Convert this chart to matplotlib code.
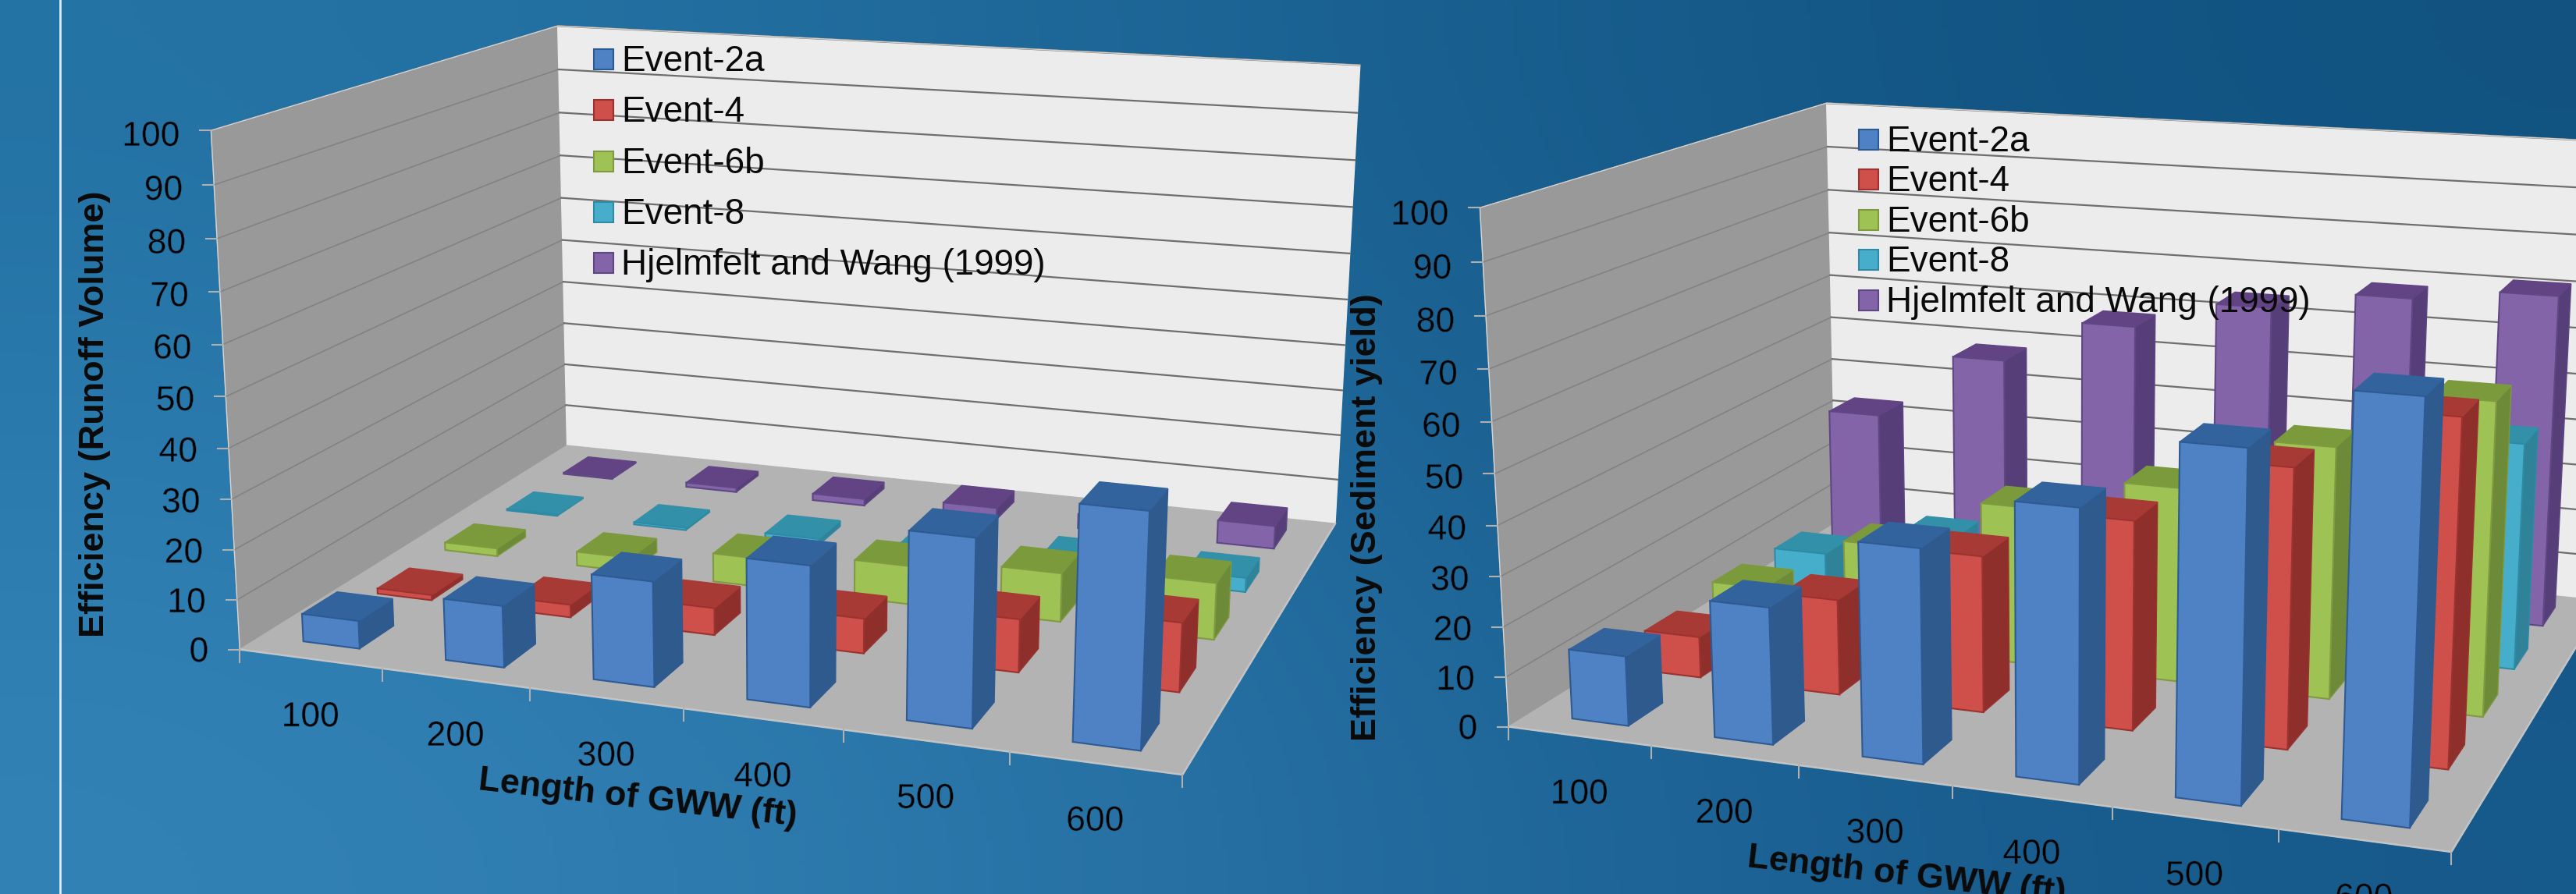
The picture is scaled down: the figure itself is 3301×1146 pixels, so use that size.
import numpy as np
import matplotlib
matplotlib.use('Agg')
import matplotlib.pyplot as plt
import matplotlib.patheffects as pe
from matplotlib.colors import to_rgb

W, H = 3301, 1146

lengths = [100, 200, 300, 400, 500, 600]
event_names = ['Event-2a', 'Event-4', 'Event-6b', 'Event-8', 'Hjelmfelt and Wang (1999)']
ticks_z = list(range(0, 101, 10))

# runoff volume efficiency, front series first
runoff_2a = [5.6, 12.2, 20.5, 27, 35.5, 43.6]
runoff_4 = [1.1, 2.6, 5.5, 7, 10.5, 13.5]
runoff_6b = [1.7, 3, 6, 8, 10, 11.5]
runoff_8 = [0.3, 0.5, 1.3, 2.5, 3, 3]
runoff_hw = [0.3, 1, 1.5, 2.6, 3.2, 5]

# sediment yield efficiency
sediment_2a = [14, 27, 41.5, 52, 65.5, 77]
sediment_4 = [8.5, 19.5, 31.5, 41.5, 54.5, 66.5]
sediment_6b = [10, 22, 33, 40, 51, 62.5]
sediment_8 = [9, 15.6, 20, 30, 38, 47]
sediment_hw = [33.2, 48.2, 58, 64.3, 68.4, 71]

# front, side, top colours for each series
face_colors = [
    ['#4f82c4', '#2f5a8e', '#33639c'],
    ['#cf4f4a', '#8e2f2c', '#a83a36'],
    ['#9fc254', '#6d8a38', '#7a9a3c'],
    ['#46aecb', '#2f8298', '#3290a8'],
    ['#8364a8', '#563f78', '#624485'],
]
edge_colors = ['#2d5a92', '#9a3330', '#7f9a40', '#2f8ba5', '#5f4784']

# anchor points of the chart box: (category, series, value) -> pixel
box_world = np.array([
    [0, 0, 0], [6, 0, 0], [0, 5, 0], [6, 5, 0],
    [0, 0, 100], [0, 5, 100], [6, 5, 100],
], dtype=float)
box_pixels = np.array([
    [307, 832], [1515, 994], [727, 572], [1711, 670],
    [271, 167], [714, 33], [1743, 84],
], dtype=float)


def fit_projection(world, pixels):
    rows = []
    for (x, y, z), (u, v) in zip(world, pixels):
        rows.append([x, y, z, 1, 0, 0, 0, 0, -u * x, -u * y, -u * z, -u])
        rows.append([0, 0, 0, 0, x, y, z, 1, -v * x, -v * y, -v * z, -v])
    _, _, vt = np.linalg.svd(np.array(rows))
    return vt[-1].reshape(3, 4)


def project(P, x, y, z):
    p = P @ np.array([x, y, z, 1.0])
    return p[0] / p[2], p[1] / p[2]


def poly(ax, P, corners, color, edge=None, lw=1.0, zorder=2):
    pts = [project(P, *c) for c in corners]
    ax.fill([p[0] for p in pts], [p[1] for p in pts], facecolor=color,
            edgecolor=edge if edge else color, linewidth=lw, zorder=zorder)


def draw_bar(ax, P, i, s, value, series, zorder):
    x0, x1 = i + 0.30, i + 0.70
    y0, y1 = s + 0.27, s + 0.73
    front, side, top = face_colors[series]
    edge = edge_colors[series]
    poly(ax, P, [(x1, y0, 0), (x1, y1, 0), (x1, y1, value), (x1, y0, value)], side, edge, 1.0, zorder)
    poly(ax, P, [(x0, y0, value), (x1, y0, value), (x1, y1, value), (x0, y1, value)], top, top, 1.0, zorder)
    poly(ax, P, [(x0, y0, 0), (x1, y0, 0), (x1, y0, value), (x0, y0, value)], front, edge, 1.5, zorder)


def draw_chart(ax, offset, series_values, ylabel, ylabel_pos, legend_x, legend_y, tick_shift, label_bg):
    P = fit_projection(box_world, box_pixels + np.array(offset))

    # thin the tick digits by eating into them with the background colour
    thin = [pe.Normal(), pe.Stroke(linewidth=0.35, foreground=label_bg)]

    # walls and floor
    poly(ax, P, [(0, 0, 0), (0, 5, 0), (0, 5, 100), (0, 0, 100)], '#999999', zorder=1)
    poly(ax, P, [(0, 5, 0), (6, 5, 0), (6, 5, 100), (0, 5, 100)], '#ececec', zorder=1)
    poly(ax, P, [(0, 0, 0), (6, 0, 0), (6, 5, 0), (0, 5, 0)], '#b3b3b3', zorder=1)

    for z in ticks_z[1:]:
        a, b, c = project(P, 0, 0, z), project(P, 0, 5, z), project(P, 6, 5, z)
        ax.plot([a[0], b[0]], [a[1], b[1]], color='#828282', lw=1.2, zorder=1.5)
        ax.plot([b[0], c[0]], [b[1], c[1]], color='#6e6e6e', lw=1.6, zorder=1.5)

    # light rim along the wall edges and the floor
    a, e, f, g = project(P, 0, 0, 0), project(P, 0, 0, 100), project(P, 0, 5, 100), project(P, 6, 5, 100)
    ax.plot([a[0], e[0], f[0], g[0]], [a[1], e[1], f[1], g[1]], color='#d4d4d4', lw=1.0, zorder=1.6)
    b, c = project(P, 6, 0, 0), project(P, 6, 5, 0)
    ax.plot([a[0], b[0], c[0]], [a[1], b[1], c[1]], color='#c4c4c4', lw=1.8, zorder=1.6)

    # axis ticks and labels
    for i in range(7):
        u, v = project(P, i, 0, 0)
        ax.plot([u, u], [v, v + 16], color='#b0b0b0', lw=1.5, zorder=1.6)
    for z in ticks_z:
        u, v = project(P, 0, 0, z)
        ax.plot([u - 14, u], [v, v], color='#b0b0b0', lw=1.5, zorder=1.6)
        ax.text(u - 40, v + tick_shift * z / 100 + 4, str(z), ha='right', va='center', fontsize=32,
                color='#000000', zorder=6, path_effects=thin)

    for i, length in enumerate(lengths):
        u, v = project(P, i + 0.5, 0, 0)
        ax.text(u, v + 75, str(length), ha='center', va='center', fontsize=32, color='#000000',
                zorder=6, path_effects=thin)

    # back series first so nearer bars cover them
    for s in range(len(series_values) - 1, -1, -1):
        for i, value in enumerate(series_values[s]):
            draw_bar(ax, P, i, s, value, s, 2 + 0.1 * (10 - s) + 0.001 * i)

    ax.text(ylabel_pos[0], ylabel_pos[1], ylabel, rotation=90, ha='center', va='center',
            fontsize=32.5, fontweight='bold', color='#0a0a0a', zorder=6)
    ax.text(817 + offset[0], 1024 + offset[1], 'Length of GWW (ft)', rotation=-6.5, ha='center', va='center',
            fontsize=32.5, fontweight='bold', color='#0a0a0a', zorder=6, rotation_mode='anchor')

    # legend
    for k, name in enumerate(event_names):
        yc = legend_y[k]
        ax.fill([legend_x, legend_x + 25, legend_x + 25, legend_x],
                [yc - 13, yc - 13, yc + 13, yc + 13],
                facecolor=face_colors[k][0], edgecolor=edge_colors[k], linewidth=1.5, zorder=7)
        ax.text(legend_x + 35, yc + 3, name, ha='left', va='center', fontsize=33, color='#0a0a0a', zorder=7)


plt.rcParams['font.family'] = ['Liberation Sans', 'DejaVu Sans']

fig = plt.figure(figsize=(W / 100, H / 100), dpi=100)
ax = fig.add_axes([0, 0, 1, 1])

# background gradient, lighter at bottom left
bg = np.array([
    [to_rgb('#2574a6'), to_rgb('#10517f')],
    [to_rgb('#3484b8'), to_rgb('#16588a')],
])
ax.imshow(bg, extent=(0, W, H, 0), interpolation='bicubic', aspect='auto', zorder=0)
ax.set_xlim(0, W)
ax.set_ylim(H, 0)
ax.axis('off')

ax.plot([77, 77], [0, H], color='#dfe9f0', lw=2, zorder=0.5)

draw_chart(ax, (0, 0), [runoff_2a, runoff_4, runoff_6b, runoff_8, runoff_hw],
           'Efficiency (Runoff Volume)', (122, 531), 761, [76, 141, 207, 272, 337], 4, '#2a7aad')
draw_chart(ax, (1626, 99), [sediment_2a, sediment_4, sediment_6b, sediment_8, sediment_hw],
           'Efficiency (Sediment yield)', (1752, 663), 2382, [179, 230, 282, 333, 385], 6, '#1d6898')

fig.savefig('out.png', dpi=100)
